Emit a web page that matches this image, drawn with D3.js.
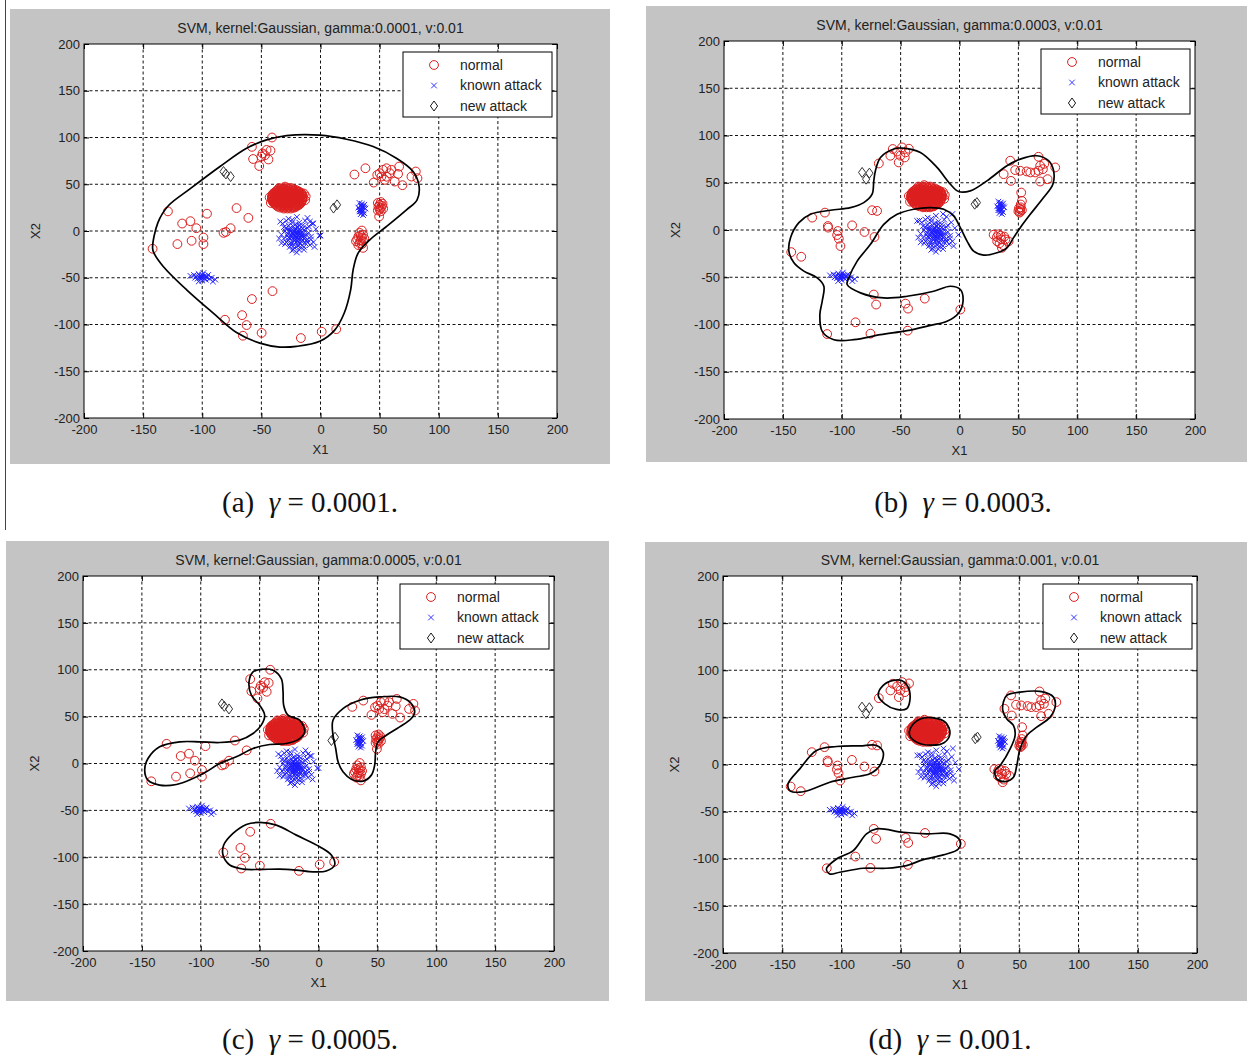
<!DOCTYPE html>
<html>
<head>
<meta charset="utf-8">
<script src="https://cdn.jsdelivr.net/npm/d3@7"></script>
<style>
  body { margin: 0; background: #fff; }
  svg { display: block; }
</style>
</head>
<body>
<svg id="fig" width="1247" height="1057"></svg>
<script>
// ---------- data ----------
const panelLetters = ["a", "b", "c", "d"];
const gammaValues = ["0.0001", "0.0003", "0.0005", "0.001"];
const nuValue = "0.01";
const axisTicks = [-200, -150, -100, -50, 0, 50, 100, 150, 200];
const legendLabels = ["normal", "known attack", "new attack"];
// which training sample each panel uses
const panelSample = ["A", "B", "A", "B"];

// dense block of normal traffic (both samples)
const normalCore = [
  [-31,46],[-28,46],[-25,46],
  [-34,45],[-30.5,45],[-27,45],[-23.5,45],
  [-36,44],[-33,44],[-30,44],[-27,44],[-24,44],[-21,44],
  [-37,43],[-34.5,43],[-31.5,43],[-28.5,43],[-25.5,43],[-22.5,43],[-19.5,43],
  [-38,42],[-35,42],[-32,42],[-29,42],[-26,42],[-23,42],[-20,42],[-18,42],
  [-39,41],[-36.5,41],[-33.5,41],[-30.5,41],[-27.5,41],[-24.5,41],[-21.5,41],[-18.5,41],[-16.5,41],
  [-40,40],[-37,40],[-34,40],[-31,40],[-28,40],[-25,40],[-22,40],[-19,40],[-16,40],
  [-40.5,39],[-38.5,39],[-35.5,39],[-32.5,39],[-29.5,39],[-26.5,39],[-23.5,39],[-20.5,39],[-17.5,39],[-15.5,39],
  [-40.5,38],[-37,38],[-34,38],[-31,38],[-28,38],[-25,38],[-22,38],[-19,38],[-16,38],
  [-41,37],[-38.5,37],[-35.5,37],[-32.5,37],[-29.5,37],[-26.5,37],[-23.5,37],[-20.5,37],[-17.5,37],[-15,37],
  [-41,36],[-38,36],[-35,36],[-32,36],[-29,36],[-26,36],[-23,36],[-20,36],[-17,36],[-15,36],
  [-41,35],[-39.5,35],[-36.5,35],[-33.5,35],[-30.5,35],[-27.5,35],[-24.5,35],[-21.5,35],[-18.5,35],[-15.5,35],
  [-41,34],[-38,34],[-35,34],[-32,34],[-29,34],[-26,34],[-23,34],[-20,34],[-17,34],[-15,34],
  [-40.5,33],[-39.5,33],[-36.5,33],[-33.5,33],[-30.5,33],[-27.5,33],[-24.5,33],[-21.5,33],[-18.5,33],[-15.5,33],
  [-40.5,32],[-37,32],[-34,32],[-31,32],[-28,32],[-25,32],[-22,32],[-19,32],[-16,32],
  [-40,31],[-38.5,31],[-35.5,31],[-32.5,31],[-29.5,31],[-26.5,31],[-23.5,31],[-20.5,31],[-17.5,31],
  [-39.5,30],[-37,30],[-34,30],[-31,30],[-28,30],[-25,30],[-22,30],[-19,30],[-16.5,30],
  [-38.5,29],[-35.5,29],[-32.5,29],[-29.5,29],[-26.5,29],[-23.5,29],[-20.5,29],[-18,29],
  [-38,28],[-35,28],[-32,28],[-29,28],[-26,28],[-23,28],[-20,28],[-18,28],
  [-36.5,27],[-33.5,27],[-30.5,27],[-27.5,27],[-24.5,27],[-21.5,27],[-19.5,27],
  [-36,26],[-33,26],[-30,26],[-27,26],[-24,26],[-21,26],
  [-34,25],[-30.5,25],[-27,25],[-23.5,25],
  [-31,24],[-28,24],[-25,24],
  [-43,36],[-13,33],[-42,30],[-14,40],[-30,47.5],[-22,25],[-12.5,37],[-35,46]
];

// scattered normal traffic, sample A
const normalScatterA = [
  [-41,100],[-58,90],[-49,83],[-45.6,86.7],[-42.3,86],[-50,79.6],[-57,77],[-44,76.5],[-51.8,69.5],[-47,81],
  [-129,21],[-142,-19],[-117,8],[-110,10.5],[-105,3],[-121,-14],[-109,-10.5],[-99,-7],[-99,-14],[-96,18.5],
  [-71,24.5],[-61,14],[-82,-2],[-80,-1],[-76,3],
  [-40.6,-64.3],[-58,-72.8],[-80.8,-94.9],[-66.3,-90],[-62.5,-100.6],[-65.6,-112],[-49.8,-109],[-16.6,-114.5],[1,-107.7],[13.3,-105],
  [28.7,60.4],[38,67.1],[45,51.8],[50.1,61.8],[52.9,65.4],[55.8,67.1],[60,65.4],[58.6,61.8],[54.4,54.7],[62.8,52.9],
  [66.5,68.9],[65.6,61],[69.3,49],[76.9,58.2],[80.6,63.6],[82,56.5],[51.5,58.2],[48,60],[56,58],
  [48.5,30],[51,31],[50,28],[52,27],[49,26],[51,25],[53,24],[50,23],[48.5,22],[51,21],[49.6,15.5],[52.5,29],
  [35,0.5],[33,-2],[36,-4],[32,-6],[35,-7],[37,-8],[31,-9],[34,-10],[36,-11],[33,-13],[35,-14],[32,-15],[36,-18],[34,-5],[30,-11]
];

// scattered normal traffic, sample B
const normalScatterB = [
  [-56.7,85.7],[-48.8,87.4],[-45.9,82.1],[-50.2,78.6],[-58.7,78.6],[-51.6,71.5],[-46.5,76.8],[-68.5,70.4],[-53,83],[-43,86],
  [-125.1,13.1],[-114.3,18.4],[-111.8,4.2],[-111.5,2.5],[-103.3,-1.1],[-103.9,-5.3],[-102.5,-9.2],[-101.1,-17],
  [-91.2,4.9],[-80.7,-2.1],[-72.2,-7.4],[-74.2,20.9],[-70,20.2],[-134.4,-28.3],[-142.9,-23.4],
  [-72.8,-68.3],[-70.8,-78.9],[-45.9,-77.9],[-43.7,-83.2],[-29.5,-72.6],[0.7,-84.2],[-88.3,-97.7],[-112.4,-110.1],[-75.6,-109.7],[-44,-106.5],
  [43.1,73.3],[37.5,59.1],[43.7,52],[47.3,63.4],[51.6,62.7],[60.1,60.9],[64.3,60.9],[67.1,77.5],[68.5,68],[70.8,64.4],
  [67.1,62.7],[68.5,51.3],[74.8,53.8],[81.3,66.2],[72,70],[57,62],
  [52.4,39.6],[53,30.8],[52,27],[51.6,22],[51,18.4],[50,20],[53,21],[52,24],[50.5,23],[51.5,19.5],
  [31.8,-7.4],[35.5,-9.9],[29,-5],[33,-4.6],[38,-7],[41.7,-12],[34,-14],[37,-16],[32,-12],[36,-18.8],[39,-10],[35,-6]
];

// known attacks: three groups shared by both samples
const knownCore = [
  [-34,10],[-29,11],[-24,12],[-18,9],[-13,11],[-7,8],[-1,-5],[-31,4],[-27,6],[-23,5],[-19,4],[-15,6],[-11,3],
  [-30,0],[-26,1],[-22,0],[-18,-1],[-14,1],[-10,-2],[-33,-4],[-28,-3],[-24,-4],[-20,-3],[-16,-5],[-12,-4],[-8,-6],
  [-31,-8],[-27,-7],[-23,-9],[-19,-8],[-15,-10],[-11,-9],[-29,-12],[-25,-13],[-21,-12],[-17,-14],[-13,-13],[-9,-15],
  [-26,-17],[-22,-18],[-18,-20],[-14,-17],[-20,-23],[-24,-21],[-35,-8],[-6,-12],[-21,-6],[-19,-2],[-23,-1],[-17,-7],
  [-25,-5],[-21,2],[-16,-11],[-27,-10],[-13,-7],[-22,-15],[-19,-16],[-26,3],[-15,-2],[-11,-12],
  [-22,-4],[-20,-6],[-18,-4],[-21,-9],[-17,-3],[-23,-7],[-19,0],[-16,-8],[-24,-2],[-20,-11],[-14,-5],[-26,-8],
  [-18,-12],[-22,2],[-15,3],[-28,-5],[-12,-10],[-25,-15],[-17,-17],[-29,3],[-10,5],[-21,7],[-30,-14],[-8,-9],
  [-14,-20],[-23,-20],[-4,2],[-32,8],[-27,13],[-20,15],[-11,14],[-5,-17],[-33,-13],[-18,6],[-24,9],
  [-21,-2],[-19,-5],[-23,-3],[-17,-1],[-20,-8],[-22,-10],[-16,-6],[-25,0],[-18,2],[-20,4]
];
const knownLeft = [
  [-110,-48],[-107,-47],[-105,-49],[-103,-46],[-102,-48],[-100,-47],[-99,-50],[-101,-51],[-104,-51],[-98,-48],
  [-96,-49],[-97,-52],[-94,-51],[-92,-50],[-89,-52],[-100,-53],[-103,-54],[-106,-50],[-95,-47],[-101,-49],[-99,-45],[-91,-54],
  [-102,-50],[-100,-49],[-98,-51],[-104,-48],[-97,-49]
];
const knownRight = [
  [33,30],[35,29],[37,28],[34,27],[36,26],[32,25],[35,25],[38,24],[34,23],[36,22],[33,21],[35,20],[37,19],
  [34,18],[36,17],[35,23],[33,23],[37,25],[35,27],[34,21]
];
const knownExtraA = [[0,-4.8],[-6,8],[-9,10]];
const knownExtraB = [[-36,9.6],[-14,17],[-6,17]];

// unseen attacks
const newAttackA = [[-82,63.6],[-76,58.2],[-80,61],[11,24.5],[14,28]];
const newAttackB = [[-82.7,60.9],[-76.5,60.2],[-79.3,53.8],[12.9,27.3],[14.8,29]];

// decision boundaries (closed loops) for each gamma
const boundary0001 = [[
  [-142,-18.5],[-137.5,9],[-128.7,27],[-110.4,45],[-85,69],[-62.5,88.5],[-45.6,97.4],[-28.7,102],[-0.6,102.5],
  [22,98.1],[44.5,90.3],[64.2,77.8],[78.3,63.6],[83.4,47.6],[81.7,33.3],[72.7,22.6],[55.8,4.8],[41.7,-9.4],
  [31.8,-23.7],[27.6,-41.5],[25.5,-62.9],[20,-88],[12,-106],[-0.6,-118],[-20.3,-123.4],[-34.4,-124.1],
  [-51.3,-119.9],[-71,-108.5],[-90.7,-87.8],[-113.2,-62.9],[-133,-37.9],[-140.8,-23.7]
]];
const boundary0003 = [[
  [-67.1,76.8],[-55.8,85.7],[-48.8,86.7],[-33.2,82.1],[-19.1,66.2],[-7.8,48.5],[-0.7,40.7],[9.2,41.4],[23.3,52],
  [40.3,68],[51.6,75],[65.7,78.6],[75.6,73.3],[79.9,62.7],[79.3,48.5],[71.4,34.3],[60.1,16.6],[51.6,2.5],
  [45.9,-8.1],[40.3,-18.8],[31.8,-24.1],[20.5,-26.5],[12,-22.3],[6.4,-11.7],[0.7,2.5],[-5,14.9],[-13.4,22],
  [-24.7,23.7],[-38.9,22],[-53,16.6],[-64.3,6],[-75.6,-15.2],[-86.9,-32.9],[-94,-50.6],[-95.4,-57.7],
  [-84.1,-66.5],[-64.3,-71.9],[-44.5,-70.1],[-21.9,-64.8],[-7.8,-59.5],[0.7,-63],[3,-75.4],[-0.7,-87.8],
  [-10.6,-96.6],[-24.7,-100.9],[-44.5,-106.5],[-67.1,-110.8],[-89.8,-116.1],[-106.7,-116.1],[-116.6,-107.3],
  [-118.6,-89.6],[-116.6,-75.4],[-115.2,-59.5],[-120.8,-50.6],[-132.2,-43.5],[-140.6,-34.7],[-144.9,-22.3],
  [-143.5,-8.1],[-136.4,7.8],[-126.5,16.6],[-109.5,20.9],[-92.6,23.7],[-81.3,29],[-74.2,37.9],[-72.8,52],[-71.4,62.7]
]];
const boundary0005 = [
  [[-48.6,100.5],[-38.6,99.5],[-31.6,90.6],[-30.1,76.4],[-29.6,62.2],[-25.9,51.5],[-16,46.2],[-11.7,33.7],
   [-16,26.6],[-27.3,21.3],[-41.5,20.3],[-55.6,16],[-69.8,7.1],[-83.9,0],[-95.3,-8.9],[-106.6,-16],
   [-120.7,-22.4],[-134.9,-23.1],[-144.8,-17.8],[-147.6,-7.1],[-144.8,5.3],[-134.9,17.8],[-117.9,23.1],
   [-100.9,23.1],[-83.9,22.4],[-66.9,24.9],[-55.6,32],[-48.6,40.9],[-45.7,51.5],[-50,62.2],[-57,72.8],
   [-59,87],[-55.6,97.7]],
  [[12.3,46.2],[20.8,58.6],[35,67.5],[51.9,71],[68.9,71],[78.8,64],[81.7,55.1],[78.8,48],[68.9,39.1],
   [57.6,30.2],[50.5,23.1],[48.5,12.4],[47.7,-1.8],[44.9,-12.4],[37.8,-18.8],[27.9,-16.7],[20.8,-8.9],
   [16.6,1.8],[14.6,16],[12.3,30.2]],
  [[-50,-62.9],[-35.8,-65.7],[-18.8,-76.4],[1,-88.8],[10.9,-97.7],[13.7,-108.3],[6.6,-114.7],[-4.7,-115.5],
   [-18.8,-113.7],[-33,-112.6],[-50,-113],[-64.1,-112.6],[-75.4,-108.3],[-81.1,-97.7],[-80.5,-87],
   [-72.6,-74.6],[-61.3,-65]]
];
const boundary001 = [
  [[-56.3,89.2],[-49.3,89.2],[-43.7,82.1],[-42.3,68],[-45.1,59.1],[-53.5,58.4],[-63.4,64.4],[-69,73.3],[-64.8,83.9]],
  [[-42,38],[-34,48],[-22.5,49.5],[-12,44.5],[-8.5,32.6],[-13.5,23],[-25.4,20.5],[-37,24],[-42.5,31]],
  [[-145.1,-20.5],[-135.2,-4.6],[-121.1,14.9],[-104.2,19.1],[-84.5,19.8],[-70.4,20.2],[-64.8,13.1],[-67.6,-1.1],
   [-76.1,-9.9],[-90.1,-13.5],[-109.9,-18.8],[-123.9,-25.8],[-135.2,-29.4],[-143.7,-27.6]],
  [[-112.7,-110.8],[-104.2,-100.2],[-90.1,-91.3],[-78.9,-73.6],[-70.4,-68.3],[-47.9,-71.9],[-28.2,-73.6],
   [-8.5,-73.6],[0,-80.7],[-1.4,-89.6],[-14.1,-95.9],[-31,-100.9],[-45.1,-107.3],[-62,-110.1],[-81.7,-110.1],
   [-101.4,-114.3],[-109.9,-116.1]],
  [[39.4,73.3],[50.7,76.8],[67.6,77.5],[78.9,71.5],[80.3,60.9],[76.1,50.3],[64.8,39.6],[56.3,30.8],[50.7,16.6],
   [47.9,-1.1],[45.1,-13.5],[38,-18.1],[31,-15.2],[29.6,-6.4],[33.8,-1.1],[42.3,16.6],[46.5,30.8],[45.1,41.4],
   [39.4,48.5],[36.1,57.3],[36.6,66.2]]
];
const boundaries = [boundary0001, boundary0003, boundary0005, boundary001];

// ---------- layout ----------
const layout = [
  { bg: [10, 9, 600, 455],  plot: [84, 44, 473, 374],  caption: [310, 512] },
  { bg: [646, 6, 601, 456], plot: [724, 41, 471, 378], caption: [963, 512] },
  { bg: [6, 541, 603, 460], plot: [83, 576, 471, 375], caption: [310, 1049] },
  { bg: [645, 542, 602, 459], plot: [723, 576, 474, 377], caption: [950, 1049] }
];

const sansFont = "'Liberation Sans', Arial, sans-serif";
const serifFont = "'Liberation Serif', 'Times New Roman', serif";
const RED = "#dc1e1e", BLUE = "#1c1cff", DARK = "#1a1a1a";
const tickText = d => String(d);

const svg = d3.select("#fig");

// page rule on the left of the top row
svg.append("line").attr("x1", 5.5).attr("x2", 5.5).attr("y1", 0).attr("y2", 530)
  .attr("stroke", "#444").attr("stroke-width", 1);

function crossPath(s) {
  return `M${-s},${-s}L${s},${s}M${-s},${s}L${s},${-s}`;
}
function diamondPath(w, h) {
  return `M0,${-h}L${w},0L0,${h}L${-w},0Z`;
}

layout.forEach((L, i) => {
  const [bx, by, bw, bh] = L.bg;
  const [px, py, pw, ph] = L.plot;
  const g = svg.append("g");

  g.append("rect").attr("x", bx).attr("y", by).attr("width", bw).attr("height", bh).attr("fill", "#c4c4c4");
  g.append("rect").attr("x", px).attr("y", py).attr("width", pw).attr("height", ph).attr("fill", "#fff");

  const x = d3.scaleLinear().domain([-200, 200]).range([px, px + pw]);
  const y = d3.scaleLinear().domain([-200, 200]).range([py + ph, py]);

  // grid
  const grid = g.append("g").attr("stroke", "#111").attr("stroke-width", 1).attr("stroke-dasharray", "3,2.5");
  axisTicks.slice(1, -1).forEach(t => {
    grid.append("line").attr("x1", x(t)).attr("x2", x(t)).attr("y1", py).attr("y2", py + ph);
    grid.append("line").attr("x1", px).attr("x2", px + pw).attr("y1", y(t)).attr("y2", y(t));
  });

  // data layers, clipped to the axes box
  const clipId = "clip-" + panelLetters[i];
  svg.append("clipPath").attr("id", clipId).append("rect")
    .attr("x", px).attr("y", py).attr("width", pw).attr("height", ph);
  const data = g.append("g").attr("clip-path", `url(#${clipId})`);

  const sample = panelSample[i];
  const normals = normalCore.concat(sample === "A" ? normalScatterA : normalScatterB);
  const knowns = knownCore.concat(knownLeft, knownRight, sample === "A" ? knownExtraA : knownExtraB);
  const newOnes = sample === "A" ? newAttackA : newAttackB;

  data.append("g").selectAll("circle").data(normals).join("circle")
    .attr("cx", d => x(d[0])).attr("cy", d => y(d[1])).attr("r", 4.4)
    .attr("fill", "none").attr("stroke", RED).attr("stroke-width", 1);

  data.append("g").selectAll("path").data(knowns).join("path")
    .attr("transform", d => `translate(${x(d[0])},${y(d[1])})`)
    .attr("d", crossPath(2.8)).attr("stroke", BLUE).attr("stroke-width", 0.95).attr("fill", "none");

  data.append("g").selectAll("path").data(newOnes).join("path")
    .attr("transform", d => `translate(${x(d[0])},${y(d[1])})`)
    .attr("d", diamondPath(3.6, 5)).attr("stroke", "#333").attr("stroke-width", 1).attr("fill", "none");

  // decision boundary
  const line = d3.line().x(d => x(d[0])).y(d => y(d[1])).curve(d3.curveCatmullRomClosed.alpha(0.5));
  data.append("g").selectAll("path").data(boundaries[i]).join("path")
    .attr("d", line).attr("fill", "none").attr("stroke", "#000").attr("stroke-width", 1.7);

  // axes box and ticks
  const axB = g.append("g").attr("transform", `translate(0,${py + ph})`)
    .call(d3.axisBottom(x).tickValues(axisTicks).tickSize(-5).tickPadding(7).tickFormat(tickText));
  const axT = g.append("g").attr("transform", `translate(0,${py})`)
    .call(d3.axisTop(x).tickValues(axisTicks).tickSize(-5).tickFormat(""));
  const axL = g.append("g").attr("transform", `translate(${px},0)`)
    .call(d3.axisLeft(y).tickValues(axisTicks).tickSize(-5).tickPadding(4).tickFormat(tickText));
  const axR = g.append("g").attr("transform", `translate(${px + pw},0)`)
    .call(d3.axisRight(y).tickValues(axisTicks).tickSize(-5).tickFormat(""));
  [axB, axT, axL, axR].forEach(a => {
    a.select(".domain").remove();
    a.selectAll("line").attr("stroke", "#000");
    a.selectAll("text").attr("font-family", sansFont).attr("font-size", 13).attr("fill", "#222");
  });
  g.append("rect").attr("x", px).attr("y", py).attr("width", pw).attr("height", ph)
    .attr("fill", "none").attr("stroke", "#000").attr("stroke-width", 1);

  // title and axis labels
  g.append("text").attr("x", px + pw / 2).attr("y", py - 11).attr("text-anchor", "middle")
    .attr("font-family", sansFont).attr("font-size", 14).attr("fill", "#222")
    .text(`SVM, kernel:Gaussian, gamma:${gammaValues[i]}, v:${nuValue}`);
  g.append("text").attr("x", px + pw / 2).attr("y", py + ph + 36).attr("text-anchor", "middle")
    .attr("font-family", sansFont).attr("font-size", 13).attr("fill", "#222").text("X1");
  g.append("text").attr("transform", `translate(${px - 44},${py + ph / 2}) rotate(-90)`)
    .attr("text-anchor", "middle").attr("font-family", sansFont).attr("font-size", 13).attr("fill", "#222").text("X2");

  // legend
  const lx = px + pw - 154, ly = py + 8;
  const lg = g.append("g");
  lg.append("rect").attr("x", lx).attr("y", ly).attr("width", 149).attr("height", 65)
    .attr("fill", "#fff").attr("stroke", "#000").attr("stroke-width", 1);
  const rows = [13, 33.5, 54];
  lg.append("circle").attr("cx", lx + 31).attr("cy", ly + rows[0]).attr("r", 4.4)
    .attr("fill", "none").attr("stroke", RED).attr("stroke-width", 1);
  lg.append("path").attr("transform", `translate(${lx + 31},${ly + rows[1]})`).attr("d", crossPath(2.8))
    .attr("stroke", BLUE).attr("stroke-width", 0.9);
  lg.append("path").attr("transform", `translate(${lx + 31},${ly + rows[2]})`).attr("d", diamondPath(3.6, 5))
    .attr("stroke", DARK).attr("stroke-width", 1).attr("fill", "none");
  legendLabels.forEach((t, k) => {
    lg.append("text").attr("x", lx + 57).attr("y", ly + rows[k]).attr("dy", "0.35em")
      .attr("font-family", sansFont).attr("font-size", 14).attr("fill", "#222").text(t);
  });

  // caption under the figure
  const cap = svg.append("text").attr("x", L.caption[0]).attr("y", L.caption[1]).attr("text-anchor", "middle")
    .attr("font-family", serifFont).attr("font-size", 29).attr("fill", "#111");
  cap.append("tspan").text(`(${panelLetters[i]})\u00a0\u00a0`);
  cap.append("tspan").attr("font-style", "italic").text("\u03b3");
  cap.append("tspan").text(`\u00a0=\u00a00.${gammaValues[i].slice(2)}.`);
});
</script>
</body>
</html>
